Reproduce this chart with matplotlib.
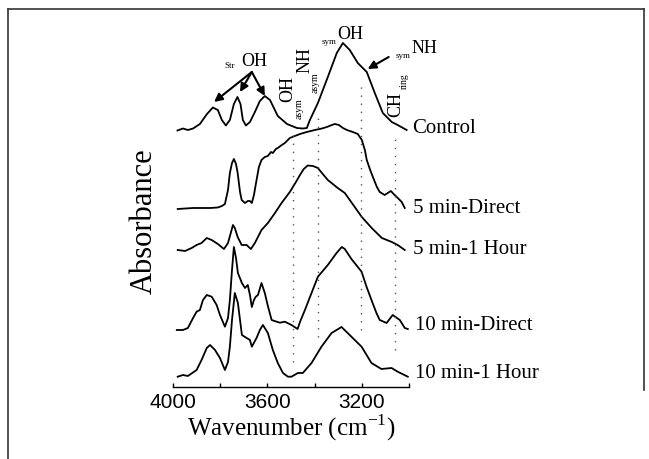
import matplotlib
matplotlib.use("Agg")
import matplotlib.pyplot as plt
from matplotlib.lines import Line2D

# ---------------- data (wavenumber in cm-1, stacked absorbance in a.u.) ----------------
ctrl_wn = [3981, 3958, 3937, 3915, 3886, 3856, 3831, 3810, 3793, 3776, 3759, 3742, 3727,
           3714, 3704, 3691, 3674, 3653, 3632, 3611, 3589, 3556, 3517, 3475, 3450, 3433,
           3420, 3386, 3344, 3306, 3280, 3251, 3217, 3179, 3145, 3111, 3073, 3048, 3010]
ctrl_a = [2.565, 2.585, 2.57, 2.585, 2.63, 2.73, 2.795, 2.77, 2.67, 2.615, 2.67, 2.83, 2.90,
          2.83, 2.67, 2.615, 2.65, 2.75, 2.86, 2.91, 2.87, 2.71, 2.63, 2.59, 2.585, 2.59,
          2.67, 2.84, 3.10, 3.34, 3.44, 3.37, 3.24, 3.15, 2.94, 2.74, 2.65, 2.62, 2.57]

d5_wn = [3980, 3915, 3843, 3810, 3793, 3780, 3767, 3759, 3750, 3742, 3733, 3726, 3716, 3709,
         3695, 3683, 3674, 3666, 3657, 3646, 3636, 3625, 3611, 3598, 3585, 3577, 3564, 3556,
         3539, 3526, 3505, 3462, 3433, 3399, 3369, 3348, 3327, 3314, 3297, 3280, 3263, 3238,
         3217, 3200, 3187, 3179, 3166, 3153, 3136, 3124, 3103, 3090, 3077, 3065, 3052, 3039,
         3031, 3018]
d5_a = [1.78, 1.79, 1.79, 1.795, 1.81, 1.83, 1.97, 2.14, 2.24, 2.28, 2.23, 2.14, 1.95, 1.87,
        1.84, 1.86, 1.86, 1.84, 1.92, 2.07, 2.20, 2.27, 2.30, 2.31, 2.35, 2.34, 2.38, 2.39,
        2.42, 2.44, 2.49, 2.53, 2.55, 2.57, 2.585, 2.60, 2.62, 2.63, 2.62, 2.59, 2.57, 2.55,
        2.53, 2.47, 2.37, 2.27, 2.18, 2.10, 2.00, 1.95, 1.92, 1.94, 1.96, 1.93, 1.90, 1.87,
        1.85, 1.79]

h5_wn = [3980, 3949, 3921, 3900, 3879, 3857, 3836, 3810, 3784, 3767, 3754, 3746, 3738, 3726,
         3709, 3688, 3670, 3653, 3625, 3598, 3568, 3540, 3505, 3479, 3462, 3446, 3429, 3407,
         3386, 3369, 3344, 3302, 3272, 3242, 3200, 3158, 3115, 3073, 3048, 3018]
h5_a = [1.37, 1.36, 1.39, 1.42, 1.44, 1.49, 1.47, 1.43, 1.38, 1.44, 1.55, 1.62, 1.59, 1.50,
        1.42, 1.42, 1.38, 1.44, 1.57, 1.64, 1.74, 1.84, 1.95, 2.05, 2.12, 2.18, 2.215, 2.21,
        2.19, 2.14, 2.07, 1.99, 1.94, 1.84, 1.70, 1.59, 1.49, 1.45, 1.42, 1.37]

d10_wn = [3984, 3958, 3937, 3915, 3900, 3886, 3873, 3857, 3836, 3815, 3801, 3780, 3767, 3759,
          3750, 3742, 3733, 3725, 3708, 3695, 3683, 3674, 3666, 3657, 3649, 3640, 3625, 3611,
          3598, 3582, 3561, 3547, 3526, 3498, 3472, 3462, 3441, 3413, 3386, 3344, 3307, 3285,
          3272, 3244, 3201, 3180, 3159, 3138, 3124, 3095, 3069, 3039, 3018, 3005]
d10_a = [0.57, 0.57, 0.59, 0.69, 0.753, 0.77, 0.87, 0.92, 0.903, 0.82, 0.72, 0.603, 0.69, 0.87,
         1.17, 1.40, 1.29, 1.14, 1.04, 0.99, 1.02, 0.92, 0.80, 0.87, 0.903, 0.92, 1.04, 0.94,
         0.81, 0.67, 0.653, 0.643, 0.653, 0.62, 0.58, 0.65, 0.77, 0.94, 1.103, 1.22, 1.34, 1.40,
         1.38, 1.28, 1.153, 1.003, 0.87, 0.74, 0.67, 0.64, 0.72, 0.67, 0.59, 0.58]

h10_wn = [3980, 3958, 3937, 3900, 3879, 3857, 3843, 3822, 3801, 3780, 3767, 3759, 3750, 3738,
          3725, 3716, 3708, 3688, 3674, 3666, 3646, 3632, 3619, 3598, 3577, 3556, 3534, 3513,
          3498, 3471, 3450, 3413, 3371, 3328, 3286, 3244, 3201, 3159, 3117, 3074, 3048, 3005]
h10_a = [0.103, 0.12, 0.11, 0.17, 0.27, 0.39, 0.42, 0.37, 0.29, 0.17, 0.25, 0.403, 0.67, 0.94,
         0.84, 0.67, 0.52, 0.49, 0.47, 0.403, 0.49, 0.57, 0.62, 0.54, 0.37, 0.24, 0.14, 0.103,
         0.103, 0.14, 0.14, 0.24, 0.403, 0.54, 0.60, 0.503, 0.403, 0.24, 0.18, 0.19, 0.153, 0.103]

series_names = ["Control", "5 min-Direct", "5 min-1 Hour", "10 min-Direct", "10 min-1 Hour"]
series_wn = [ctrl_wn, d5_wn, h5_wn, d10_wn, h10_wn]
series_a = [ctrl_a, d5_a, h5_a, d10_a, h10_a]
label_pos = [(2988, 2.59), (2984, 1.79), (2984, 1.37), (2976, 0.61), (2976, 0.13)]

# reference band positions (cm-1) and their vertical extent
band_wn = [3491, 3385, 3204, 3060]
band_lo = [0.25, 0.50, 0.57, 0.37]
band_hi = [2.55, 2.74, 3.04, 2.52]

xticks_major = [4000, 3600, 3200]
xticks_minor = [3800, 3400, 3000]

# ---------------- figure ----------------
W, H = 649, 459
fig = plt.figure(figsize=(W / 100, H / 100), dpi=100)
serif = ["Liberation Serif", "DejaVu Serif"]
sans = ["Liberation Sans", "DejaVu Sans"]

ax = fig.add_axes([173 / W, (H - 387) / H, 236 / W, 387 / H])
ax.set_xlim(4000, 3000)
ax.set_ylim(0, 3.87)

for wn, a in zip(series_wn, series_a):
    ax.plot(wn, a, color="black", lw=1.3, solid_joinstyle="round", clip_on=False)

for name, (x, y) in zip(series_names, label_pos):
    ax.text(x, y, name, family=serif, fontsize=15, ha="left", va="center", clip_on=False)

for x, lo, hi in zip(band_wn, band_lo, band_hi):
    ax.plot([x, x], [lo, hi], color="#555555", lw=1.0, linestyle=(0, (1, 4.8)))

# annotations
ax.text(3655, 3.26, "OH", family=serif, fontsize=13, ha="center", va="center")
ax.text(3758, 3.21, "Str", family=serif, fontsize=6.5, ha="center", va="center")
for tx, ty in [(3826, 2.85), (3716, 2.95), (3611, 2.91)]:
    ax.annotate("", xy=(tx, ty), xytext=(3666, 3.15),
                arrowprops=dict(arrowstyle="-|>", color="black", lw=1.5,
                                mutation_scale=12, shrinkA=0, shrinkB=0))

ax.text(3251, 3.53, "OH", family=serif, fontsize=13, ha="center", va="center")
ax.text(3340, 3.45, "sym", family=serif, fontsize=6.5, ha="center", va="center")

ax.text(2935, 3.39, "NH", family=serif, fontsize=13, ha="center", va="center", clip_on=False)
ax.text(3026, 3.31, "sym", family=serif, fontsize=6.5, ha="center", va="center")
ax.annotate("", xy=(3175, 3.18), xytext=(3086, 3.30),
            arrowprops=dict(arrowstyle="-|>", color="black", lw=1.5,
                            mutation_scale=12, shrinkA=0, shrinkB=0))

ax.text(3513, 2.98, "OH", family=serif, fontsize=13, ha="center", va="center", rotation=90)
ax.text(3467, 2.78, "asym", family=serif, fontsize=7, ha="center", va="center", rotation=90)
ax.text(3441, 3.27, "NH", family=serif, fontsize=13, ha="center", va="center", rotation=90)
ax.text(3399, 3.04, "asym", family=serif, fontsize=7, ha="center", va="center", rotation=90)
ax.text(3056, 2.83, "CH", family=serif, fontsize=13, ha="center", va="center", rotation=90)
ax.text(3018, 3.06, "ring", family=serif, fontsize=7, ha="center", va="center", rotation=90)

# axes styling
for s in ["left", "right", "top"]:
    ax.spines[s].set_visible(False)
ax.spines["bottom"].set_linewidth(1.0)
ax.set_yticks([])
ax.set_xticks(xticks_major)
ax.set_xticks(xticks_minor, minor=True)
ax.set_xticklabels([str(v) for v in xticks_major], family=sans, fontsize=15)
ax.tick_params(axis="x", which="both", direction="in", length=3, width=1, pad=4)
ax.set_xlabel("Wavenumber (cm$^{\\mathregular{-1}}$)", family=serif, fontsize=18, labelpad=1)
ax.patch.set_alpha(0)

fig.text(144 / W, 1 - 221 / H, "Absorbance", family=serif, fontsize=22, rotation=90,
         ha="center", va="center")

# outer frame
frame_col = "#333333"
fig.add_artist(Line2D([8 / W, 644 / W], [1 - 9 / H, 1 - 9 / H], color=frame_col, lw=1.2,
                      transform=fig.transFigure))
fig.add_artist(Line2D([8 / W, 8 / W], [1 - 9 / H, 0], color=frame_col, lw=1.2,
                      transform=fig.transFigure))
fig.add_artist(Line2D([644 / W, 644 / W], [1 - 9 / H, 1 - 390 / H], color=frame_col, lw=1.2,
                      transform=fig.transFigure))

fig.savefig("out.png", dpi=100)
